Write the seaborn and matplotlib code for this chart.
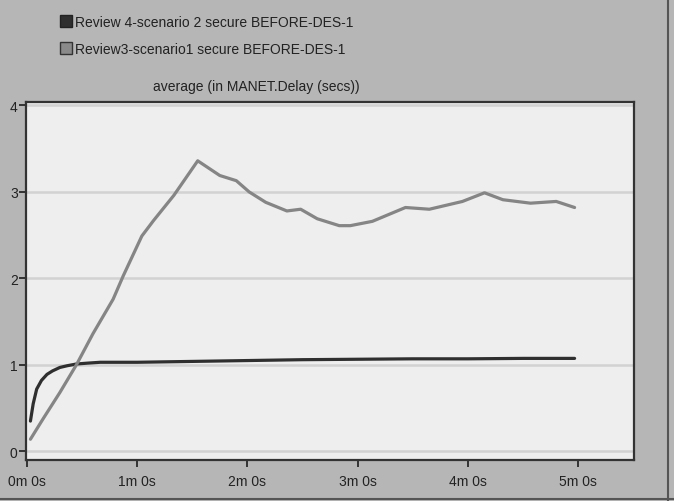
import numpy as np
import pandas as pd
import matplotlib
matplotlib.use("Agg")
import matplotlib.pyplot as plt
from matplotlib.lines import Line2D
from matplotlib import font_manager
import seaborn as sns

# ---- data (time in seconds, delay in seconds) ----
s1_name = "Review 4-scenario 2 secure BEFORE-DES-1"
s1_t = [2, 3.5, 5.4, 8, 11, 14, 18, 22, 27, 33, 40, 60, 90, 120, 150, 180, 210, 240, 270, 298]
s1_v = [0.35, 0.55, 0.72, 0.82, 0.89, 0.93, 0.97, 0.99, 1.01, 1.02, 1.03, 1.03, 1.04, 1.05, 1.06, 1.065, 1.07, 1.07, 1.075, 1.075]

s2_name = "Review3-scenario1 secure BEFORE-DES-1"
s2_t = [2, 9, 18, 27, 36, 47, 52.5, 62.6, 69, 80, 93, 105, 114, 121, 130, 141.5, 149, 158, 170, 176,
        188, 206, 219, 237, 249, 259, 274, 288, 298]
s2_v = [0.14, 0.38, 0.68, 1.0, 1.36, 1.76, 2.03, 2.49, 2.67, 2.96, 3.36, 3.19, 3.13, 3.0, 2.88, 2.78,
        2.80, 2.69, 2.61, 2.61, 2.66, 2.82, 2.80, 2.89, 2.99, 2.91, 2.87, 2.89, 2.82]

xticks = [0, 60, 120, 180, 240, 300]
xticklabels = ["0m 0s", "1m 0s", "2m 0s", "3m 0s", "4m 0s", "5m 0s"]
yticks = [0, 1, 2, 3, 4]
title = "average (in MANET.Delay (secs))"

df = pd.concat([
    pd.DataFrame({"t": s1_t, "v": s1_v, "series": s1_name}),
    pd.DataFrame({"t": s2_t, "v": s2_v, "series": s2_name}),
])

sns.set_theme(style="white")
names = {f.name for f in font_manager.fontManager.ttflist}
fam = ["Liberation Sans Narrow"] if "Liberation Sans Narrow" in names else ["Liberation Sans"]
plt.rcParams["font.family"] = fam + ["DejaVu Sans"]
narrow = "Liberation Sans Narrow" in names
fs = 12 if narrow else 10

fig_bg = "#b6b6b6"
ax_bg = "#eeeeee"
c1 = "#2f2f2f"
c2 = "#858585"

fig = plt.figure(figsize=(6.74, 5.02), dpi=100, facecolor=fig_bg)
ax = fig.add_axes([0.0386, 0.0817, 0.902, 0.7131])
ax.set_facecolor(ax_bg)

sns.lineplot(data=df, x="t", y="v", hue="series", palette={s1_name: c1, s2_name: c2},
             hue_order=[s1_name, s2_name], ax=ax, linewidth=2.3, legend=False, sort=True)

ax.set_xlim(-0.4, 330.3)
ax.set_ylim(-0.1, 4.04)
ax.set_xticks(xticks)
ax.set_xticklabels(xticklabels)
ax.set_yticks(yticks)
ax.set_xlabel("")
ax.set_ylabel("")
ax.grid(axis="y", color="#d2d2d2", linewidth=1.8)
ax.grid(axis="x", visible=False)
ax.set_axisbelow(True)
for sp in ax.spines.values():
    sp.set_color("#333333")
    sp.set_linewidth(1.6)
    sp.set_visible(True)
ax.tick_params(axis="both", direction="out", length=5, width=1.4, color="#333333",
               labelsize=fs, labelcolor="#222222", pad=3)
ax.tick_params(axis="x", bottom=True, pad=5)
ax.tick_params(axis="y", left=True, pad=1)

fig.text(256 / 674, 1 - 87 / 502, title, ha="center", va="center", fontsize=fs, color="#222222")

handles = [
    Line2D([], [], linestyle="none", marker="s", markersize=8, markerfacecolor=c1, markeredgecolor="#222222"),
    Line2D([], [], linestyle="none", marker="s", markersize=8, markerfacecolor="#8a8a8a", markeredgecolor="#333333"),
]
fig.legend(handles, [s1_name, s2_name], loc="upper left", bbox_to_anchor=(59 / 674, 1 - 16 / 502),
           frameon=False, fontsize=fs, handletextpad=0.15, labelspacing=0.95, handlelength=1.0,
           borderaxespad=0, borderpad=0, labelcolor="#222222")

# figure border lines
fig.add_artist(Line2D([668 / 674, 668 / 674], [0, 1], transform=fig.transFigure, color="#555555", lw=1.5))
fig.add_artist(Line2D([0, 1], [2 / 502, 2 / 502], transform=fig.transFigure, color="#555555", lw=1.5))

fig.savefig("out.png", dpi=100, facecolor=fig_bg)
